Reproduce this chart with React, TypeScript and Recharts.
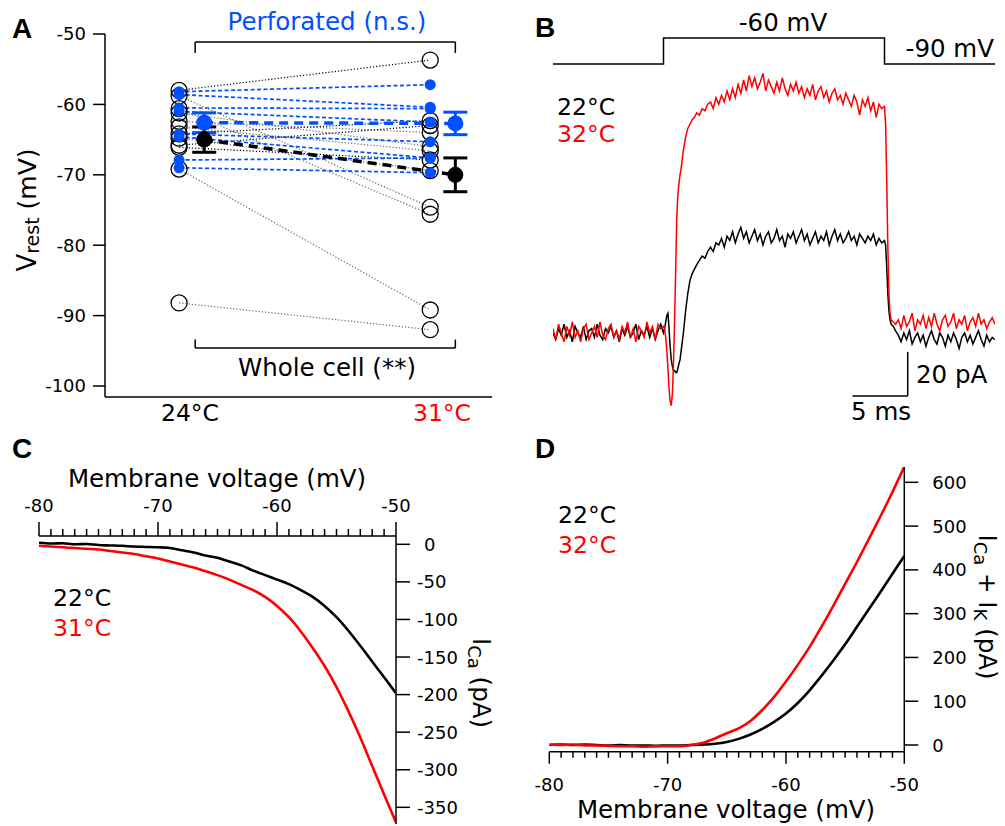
import React from "react";
import {
  ComposedChart,
  LineChart,
  Line,
  Scatter,
  XAxis,
  YAxis,
  ErrorBar,
  ReferenceLine,
} from "recharts";

const FONT = "'DejaVu Sans', Verdana, sans-serif";
const BOLD = "'Liberation Sans', Arial, sans-serif";
const BLUE = "#0050ff";
const RED = "#ff0000";

// ---- A: resting potential, paired cells at two temperatures
const tempLabels = ["24°C", "31°C"];
const vrestTicks = [-100, -90, -80, -70, -60, -50];
const perf24 = [-58.2, -58.6, -60.5, -61.0, -64.2, -64.6, -67.9, -69.0];
const perf31 = [-57.2, -60.4, -60.6, -62.5, -65.3, -67.6, -67.6, -69.7];
const wc24 = [-58.0, -58.8, -60.6, -61.2, -62.4, -63.2, -64.2, -64.8, -65.8, -66.1, -69.2, -88.2];
const wc31 = [-53.7, -74.6, -75.6, -66.0, -64.0, -66.6, -62.3, -69.4, -63.0, -67.9, -89.2, -92.0];
const wcDark = [true, false, false, false, false, false, true, false, true, true, false, false];
const perfMean = [-62.6, -62.7];
const perfSem = [1.4, 1.6];
const wcMean = [-65.0, -70.0];
const wcSem = [1.8, 2.4];

// ---- B: current traces (pA) during a -90 -> -60 mV step
const cmdTime = [0, 10, 30, 40];
const cmdMv = [-90, -60, -90, -90];
const traceTime = [
  // before step
  0, 0.25, 0.5, 0.75, 1, 1.25, 1.5, 1.75, 2, 2.25, 2.5, 2.75, 3, 3.25, 3.5, 3.75, 4, 4.25, 4.5, 4.75,
  5, 5.25, 5.5, 5.75, 6, 6.25, 6.5, 6.75, 7, 7.25, 7.5, 7.75, 8, 8.25, 8.5, 8.75, 9, 9.25, 9.5, 9.75, 10,
  // onset
  10.1, 10.2, 10.3, 10.4, 10.5, 10.6, 10.7, 10.8, 10.9, 11, 11.1, 11.2, 11.3, 11.4, 11.5, 11.6,
  11.8, 12, 12.2, 12.4, 12.6, 12.8, 13, 13.25, 13.5, 13.75, 14,
  // plateau
  14.25, 14.5, 14.75, 15, 15.25, 15.5, 15.75, 16, 16.25, 16.5, 16.75, 17, 17.25, 17.5, 17.75, 18,
  18.25, 18.5, 18.75, 19, 19.25, 19.5, 19.75, 20, 20.25, 20.5, 20.75, 21, 21.25, 21.5, 21.75, 22,
  22.25, 22.5, 22.75, 23, 23.25, 23.5, 23.75, 24, 24.25, 24.5, 24.75, 25, 25.25, 25.5, 25.75, 26,
  26.25, 26.5, 26.75, 27, 27.25, 27.5, 27.75, 28, 28.25, 28.5, 28.75, 29, 29.25, 29.5, 29.75, 30,
  // offset
  30.1, 30.2, 30.3, 30.4, 30.5, 30.6, 30.8, 31,
  // after step
  31.25, 31.5, 31.75, 32, 32.25, 32.5, 32.75, 33, 33.25, 33.5, 33.75, 34, 34.25, 34.5, 34.75, 35,
  35.25, 35.5, 35.75, 36, 36.25, 36.5, 36.75, 37, 37.25, 37.5, 37.75, 38, 38.25, 38.5, 38.75, 39,
  39.25, 39.5, 39.75, 40,
];
const trace22 = [
  0, -3, 2, -1, 4, -2, 1, -4, 3, 0, -2, 3, -3, 1, 2, -2, 4, -1, -3, 2,
  0, 3, -2, 1, -4, 2, -1, 3, -2, 0, 4, -3, 1, -1, 3, -2, 2, -3, 1, 4, 0,
  2, 5, 8, 9, 2, -6, -12, -15, -17, -17, -18, -18, -16, -14, -12, -8,
  0, 10, 18, 24, 27, 29, 31, 33, 35, 34, 37,
  39, 37, 41, 40, 43, 39, 44, 42, 46, 41, 45, 48, 43, 46, 41, 44,
  47, 42, 45, 40, 44, 46, 41, 43, 47, 42, 44, 39, 45, 43, 46, 41,
  44, 47, 42, 45, 40, 43, 46, 41, 44, 42, 46, 40, 44, 47, 42, 45,
  41, 43, 46, 42, 44, 40, 45, 43, 41, 44, 42, 45, 40, 43, 41, 42,
  40, 30, 18, 10, 6, 4, 3, 1,
  -1, -4, 0, -3, 1, -5, -2, 0, -4, -1, -6, -2, 1, -3, -5, 0,
  -2, -6, -1, -4, 0, -3, -7, -2, 0, -4, -1, -5, -2, 1, -3, -6,
  -1, -4, -2, -3,
];
const trace32 = [
  2, -3, 4, 0, -4, 3, -1, 5, -2, 1, -4, 2, 4, -3, 0, 3, -2, 5, -1, -3,
  2, 4, -2, 1, -3, 3, 0, 5, -2, 2, -4, 3, 1, -2, 5, 0, 3, -3, 4, 2, 3,
  2, -2, -8, -16, -25, -31, -33, -28, -15, 5, 28, 52, 63, 68, 72, 75,
  83, 89, 93, 95, 97, 98, 100, 99, 102, 101, 104,
  105, 102, 107, 104, 108, 105, 110, 106, 111, 107, 113, 109, 115, 110, 117, 112,
  116, 111, 114, 118, 110, 115, 112, 109, 114, 110, 116, 111, 108, 113, 110, 114,
  109, 112, 107, 111, 108, 113, 106, 110, 112, 107, 110, 105, 109, 111, 106, 108,
  104, 109, 106, 103, 108, 105, 99, 106, 103, 107, 101, 105, 98, 104, 102, 103,
  95, 70, 40, 18, 9, 6, 5, 4,
  6, 2, 8, 3, 5, 9, 1, 6, 4, 8, 2, 7, 3, 9, 4, 1,
  6, 8, 3, 5, 9, 2, 6, 4, 8, 1, 5, 7, 3, 9, 4, 6,
  2, 5, 7, 4,
];

// ---- C / D: I-V ramps
const ivVoltage = [
  -80, -79, -78, -77, -76, -75, -74, -73, -72, -71, -70, -69, -68, -67, -66, -65,
  -64, -63, -62, -61, -60, -59, -58, -57, -56, -55, -54, -53, -52, -51, -50,
];
const icaTicks = [-350, -300, -250, -200, -150, -100, -50, 0];
const ica22 = [
  2, 1, 1.5, 0, 0.5, -1, -1.5, -2, -3, -3.5, -4, -5, -8, -11, -15, -18,
  -23, -28, -35, -41, -47, -53, -61, -70, -82, -97, -115, -135, -156, -177, -198,
];
const ica31 = [
  -2, -3, -4, -5, -6, -7, -9, -11, -13, -16, -19, -23, -27, -31, -36, -41,
  -47, -54, -61, -70, -82, -97, -116, -138, -162, -190, -222, -257, -295, -333, -370,
];
const ikTicks = [0, 100, 200, 300, 400, 500, 600];
const ik22 = [
  0, 1, 0, 1, 0, -1, 0, -1, -1, -2, -1, -1, 0, 1, 3, 7,
  14, 24, 37, 53, 72, 96, 125, 158, 193, 230, 270, 310, 350, 391, 432,
];
const ik32 = [
  1, 0, 1, -1, -1, -2, -3, -3, -4, -3, -3, -3, 0, 5, 15, 27,
  38, 55, 80, 110, 145, 183, 224, 270, 318, 368, 418, 470, 523, 578, 636,
];

const traceData = traceTime.map((t, i) => ({ t, i22: trace22[i], i32: trace32[i] }));
const cmdData = cmdTime.map((t, i) => ({ t, mv: cmdMv[i] }));
const ivC = ivVoltage.map((mv, i) => ({ mv, a: ica22[i], b: ica31[i] }));
const ivD = ivVoltage.map((mv, i) => ({ mv, a: ik22[i], b: ik32[i] }));

const axisStyle = { stroke: "#000", strokeWidth: 1.5 };
const txt = { fontFamily: FONT, fill: "#000" };
const TICK_FS = 18;

const openCircle = (p: any) => (
  <circle cx={p.cx} cy={p.cy} r={8} fill="none" stroke="#000" strokeWidth={1.3} />
);
const blueDot = (p: any) => <circle cx={p.cx} cy={p.cy} r={5.5} fill={BLUE} />;
const meanDot = (color: string) => (p: any) => (
  <circle cx={p.cx} cy={p.cy} r={8} fill={color} />
);

const TopTick = (p: any) => {
  const major = p.payload.value % 10 === 0;
  return (
    <g>
      <line x1={p.x} x2={p.x} y1={p.y} y2={p.y - (major ? 14 : 7)} stroke="#000" strokeWidth={1.5} />
      {major && (
        <text x={p.x} y={p.y - 24} textAnchor="middle" fontSize={TICK_FS} style={txt}>
          {p.payload.value}
        </text>
      )}
    </g>
  );
};

const BottomTick = (p: any) => {
  const major = p.payload.value % 10 === 0;
  return (
    <g>
      <line x1={p.x} x2={p.x} y1={p.y} y2={p.y + (major ? 12 : 6)} stroke="#000" strokeWidth={1.5} />
      {major && (
        <text x={p.x} y={p.y + 39} textAnchor="middle" fontSize={TICK_FS} style={txt}>
          {p.payload.value}
        </text>
      )}
    </g>
  );
};

const RightTick = (p: any) => (
  <g>
    <line x1={p.x} x2={p.x + 14} y1={p.y} y2={p.y} stroke="#000" strokeWidth={1.5} />
    <text x={p.x + (p.payload.value < 0 ? 21 : 28)} y={p.y + 6.5} textAnchor="start" fontSize={TICK_FS} style={txt}>
      {p.payload.value}
    </text>
  </g>
);

function PanelA() {
  return (
    <ComposedChart width={500} height={420} margin={{ top: 34, right: 8, bottom: 13, left: 45 }}>
      <XAxis type="number" dataKey="x" domain={[-0.295, 1.246]} allowDataOverflow tick={false} tickLine={false} height={10} axisLine={axisStyle} />
      <YAxis
        type="number"
        domain={[-101.56, -50]}
        allowDataOverflow
        ticks={vrestTicks}
        interval={0}
        width={60}
        tickSize={12}
        tickMargin={7}
        tick={{ fill: "#000", fontSize: TICK_FS, fontFamily: FONT }}
        axisLine={axisStyle}
        tickLine={axisStyle}
      />
      {wc24.map((v, i) => (
        <Line
          key={"wc" + i}
          data={[{ x: 0, y: v }, { x: 1, y: wc31[i] }]}
          dataKey="y"
          stroke={wcDark[i] ? "#000" : "#666"}
          strokeDasharray="1.2 2"
          strokeWidth={1.2}
          dot={false}
          isAnimationActive={false}
        />
      ))}
      {perf24.map((v, i) => (
        <Line
          key={"pf" + i}
          data={[{ x: 0, y: v }, { x: 1, y: perf31[i] }]}
          dataKey="y"
          stroke={BLUE}
          strokeDasharray="4 2.5"
          strokeWidth={1.7}
          dot={false}
          isAnimationActive={false}
        />
      ))}
      <Line
        data={[{ x: 0.1, y: perfMean[0] }, { x: 1.1, y: perfMean[1] }]}
        dataKey="y"
        stroke={BLUE}
        strokeDasharray="9 6"
        strokeWidth={3.5}
        dot={false}
        isAnimationActive={false}
      />
      <Line
        data={[{ x: 0.1, y: wcMean[0] }, { x: 1.1, y: wcMean[1] }]}
        dataKey="y"
        stroke="#000"
        strokeDasharray="9 6"
        strokeWidth={3.5}
        dot={false}
        isAnimationActive={false}
      />
      <Scatter data={wc24.map((y) => ({ x: 0, y }))} dataKey="y" shape={openCircle} isAnimationActive={false} />
      <Scatter data={wc31.map((y) => ({ x: 1, y }))} dataKey="y" shape={openCircle} isAnimationActive={false} />
      <Scatter data={perf24.map((y) => ({ x: 0, y }))} dataKey="y" shape={blueDot} isAnimationActive={false} />
      <Scatter data={perf31.map((y) => ({ x: 1, y }))} dataKey="y" shape={blueDot} isAnimationActive={false} />
      <Scatter
        data={perfMean.map((y, i) => ({ x: i + 0.1, y, e: perfSem[i] }))}
        dataKey="y"
        shape={meanDot(BLUE)}
        isAnimationActive={false}
      >
        <ErrorBar dataKey="e" direction="y" width={12} stroke={BLUE} strokeWidth={3} />
      </Scatter>
      <Scatter
        data={wcMean.map((y, i) => ({ x: i + 0.1, y, e: wcSem[i] }))}
        dataKey="y"
        shape={meanDot("#000")}
        isAnimationActive={false}
      >
        <ErrorBar dataKey="e" direction="y" width={12} stroke="#000" strokeWidth={3} />
      </Scatter>
      <ReferenceLine segment={[{ x: 0.064, y: -51.14 }, { x: 1.1, y: -51.14 }]} stroke="#000" strokeWidth={1.5} />
      <ReferenceLine segment={[{ x: 0.064, y: -51.14 }, { x: 0.064, y: -52.7 }]} stroke="#000" strokeWidth={1.5} />
      <ReferenceLine segment={[{ x: 1.1, y: -51.14 }, { x: 1.1, y: -52.7 }]} stroke="#000" strokeWidth={1.5} />
      <ReferenceLine segment={[{ x: 0.064, y: -94.6 }, { x: 1.1, y: -94.6 }]} stroke="#000" strokeWidth={1.5} />
      <ReferenceLine segment={[{ x: 0.064, y: -94.6 }, { x: 0.064, y: -93.4 }]} stroke="#000" strokeWidth={1.5} />
      <ReferenceLine segment={[{ x: 1.1, y: -94.6 }, { x: 1.1, y: -93.4 }]} stroke="#000" strokeWidth={1.5} />
    </ComposedChart>
  );
}

function PanelB() {
  return (
    <LineChart width={485} height={420} margin={{ top: 20, right: 10, bottom: 10, left: 33 }}>
      <XAxis type="number" dataKey="t" domain={[0, 40]} allowDataOverflow hide />
      <YAxis yAxisId="i" type="number" domain={[-35, 142.27]} allowDataOverflow hide />
      <YAxis yAxisId="v" type="number" domain={[-489.2, -39.23]} allowDataOverflow hide />
      <Line yAxisId="v" data={cmdData} dataKey="mv" type="stepAfter" stroke="#000" strokeWidth={1.5} dot={false} isAnimationActive={false} />
      <Line yAxisId="i" data={traceData} dataKey="i22" type="linear" stroke="#000" strokeWidth={1.5} dot={false} isAnimationActive={false} />
      <Line yAxisId="i" data={traceData} dataKey="i32" type="linear" stroke={RED} strokeWidth={1.5} dot={false} isAnimationActive={false} />
      <ReferenceLine yAxisId="i" segment={[{ x: 27.1, y: -28.6 }, { x: 32.1, y: -28.6 }]} stroke="#000" strokeWidth={1.5} />
      <ReferenceLine yAxisId="i" segment={[{ x: 32.1, y: -28.6 }, { x: 32.1, y: -8.6 }]} stroke="#000" strokeWidth={1.5} />
    </LineChart>
  );
}

function PanelC() {
  return (
    <LineChart width={500} height={396} data={ivC} margin={{ top: 76, right: 4, bottom: 2, left: 39 }}>
      <XAxis
        type="number"
        dataKey="mv"
        orientation="top"
        domain={[-80, -50]}
        allowDataOverflow
        ticks={ivVoltage}
        interval={0}
        height={30}
        tickSize={0}
        tickMargin={0}
        tickLine={false}
        tick={(p: any) => <TopTick {...p} />}
        axisLine={axisStyle}
      />
      <YAxis
        type="number"
        orientation="right"
        domain={[-372.2, 11.05]}
        allowDataOverflow
        ticks={icaTicks}
        interval={0}
        width={100}
        tickSize={0}
        tickMargin={0}
        tickLine={false}
        tick={(p: any) => <RightTick {...p} />}
        axisLine={axisStyle}
      />
      <Line dataKey="a" type="monotone" stroke="#000" strokeWidth={2.6} dot={false} isAnimationActive={false} />
      <Line dataKey="b" type="monotone" stroke={RED} strokeWidth={2.6} dot={false} isAnimationActive={false} />
    </LineChart>
  );
}

function PanelD() {
  return (
    <LineChart width={495} height={396} data={ivD} margin={{ top: 37, right: 0.7, bottom: 4.3, left: 39.3 }}>
      <XAxis
        type="number"
        dataKey="mv"
        domain={[-80, -50]}
        allowDataOverflow
        ticks={ivVoltage}
        interval={0}
        height={70}
        tickSize={0}
        tickMargin={0}
        tickLine={false}
        tick={(p: any) => <BottomTick {...p} />}
        axisLine={axisStyle}
      />
      <YAxis
        type="number"
        orientation="right"
        domain={[-15.3, 635]}
        allowDataOverflow
        ticks={ikTicks}
        interval={0}
        width={100}
        tickSize={0}
        tickMargin={0}
        tickLine={false}
        tick={(p: any) => <RightTick {...p} />}
        axisLine={axisStyle}
      />
      <Line dataKey="a" type="monotone" stroke="#000" strokeWidth={2.6} dot={false} isAnimationActive={false} />
      <Line dataKey="b" type="monotone" stroke={RED} strokeWidth={2.6} dot={false} isAnimationActive={false} />
    </LineChart>
  );
}

export default function App() {
  const big = { fontFamily: FONT, fontSize: 24.5 };
  const leg = { fontFamily: FONT, fontSize: 23.5 };
  const letter = { fontFamily: BOLD, fontSize: 28, fontWeight: 700 as const };
  return (
    <div style={{ position: "relative", width: 1005, height: 826, background: "#fff", overflow: "hidden" }}>
      <style>{"body{margin:0}"}</style>
      <div style={{ position: "absolute", left: 0, top: 0 }}>
        <PanelA />
      </div>
      <div style={{ position: "absolute", left: 520, top: 0 }}>
        <PanelB />
      </div>
      <div style={{ position: "absolute", left: 0, top: 430 }}>
        <PanelC />
      </div>
      <div style={{ position: "absolute", left: 510, top: 430 }}>
        <PanelD />
      </div>
      <svg width={1005} height={826} style={{ position: "absolute", left: 0, top: 0, pointerEvents: "none" }}>
        <text x={12} y={38} style={letter}>A</text>
        <text x={535} y={37} style={letter}>B</text>
        <text x={12} y={458} style={letter}>C</text>
        <text x={535} y={458} style={letter}>D</text>

        {/* A */}
        <text x={327} y={30} textAnchor="middle" style={{ ...big, fill: BLUE }}>Perforated (n.s.)</text>
        <text x={327} y={376} textAnchor="middle" style={big}>Whole cell (**)</text>
        <text x={190} y={421} textAnchor="middle" style={leg}>{tempLabels[0]}</text>
        <text x={442} y={421} textAnchor="middle" style={{ ...leg, fill: RED }}>{tempLabels[1]}</text>
        <text transform="translate(36,210) rotate(-90)" textAnchor="middle" style={{ ...big, fontSize: 26 }}>
          V<tspan fontSize={19} dy={3}>rest</tspan>
          <tspan fontSize={25} dy={-3}> (mV)</tspan>
        </text>

        {/* B */}
        <text x={783} y={31} textAnchor="middle" style={big}>-60 mV</text>
        <text x={994} y={57} textAnchor="end" style={big}>-90 mV</text>
        <text x={557} y={115} style={leg}>22°C</text>
        <text x={557} y={142} style={{ ...leg, fill: RED }}>32°C</text>
        <text x={916} y={383} style={big}>20 pA</text>
        <text x={851} y={420} style={big}>5 ms</text>

        {/* C */}
        <text x={217} y={487} textAnchor="middle" style={big}>Membrane voltage (mV)</text>
        <text x={53} y={606} style={leg}>22°C</text>
        <text x={53} y={636} style={{ ...leg, fill: RED }}>31°C</text>
        <text transform="translate(473,683) rotate(90)" textAnchor="middle" style={big}>
          I<tspan fontSize={18} dy={5}>Ca</tspan>
          <tspan dy={-5}> (pA)</tspan>
        </text>

        {/* D */}
        <text x={726} y={818} textAnchor="middle" style={big}>Membrane voltage (mV)</text>
        <text x={558} y={523} style={leg}>22°C</text>
        <text x={558} y={553} style={{ ...leg, fill: RED }}>32°C</text>
        <text transform="translate(979,607) rotate(90)" textAnchor="middle" style={big}>
          I<tspan fontSize={18} dy={5}>Ca</tspan>
          <tspan dy={-5}> + I</tspan>
          <tspan fontSize={18} dy={5}>K</tspan>
          <tspan dy={-5}> (pA)</tspan>
        </text>
      </svg>
    </div>
  );
}
